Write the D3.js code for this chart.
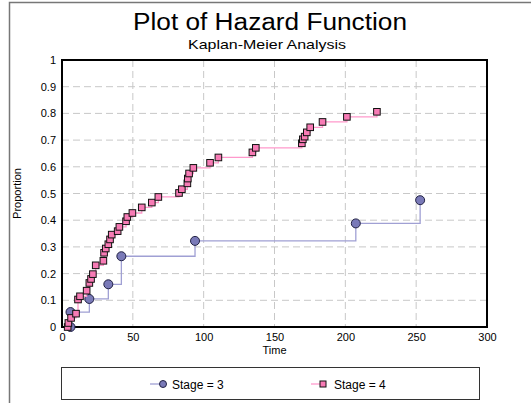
<!DOCTYPE html>
<html><head><meta charset="utf-8">
<script src="https://cdn.jsdelivr.net/npm/d3@7"></script>
<style>body{margin:0;background:#fff}svg{display:block;font-family:"Liberation Sans",Arial,sans-serif}</style>
</head><body><svg id="c" width="531" height="403"></svg>
<script>
const xTicks = [0, 50, 100, 150, 200, 250, 300];
const yTicks = [0, 0.1, 0.2, 0.3, 0.4, 0.5, 0.6, 0.7, 0.8, 0.9, 1];
const yTickLabels = ["0", "0.1", "0.2", "0.3", "0.4", "0.5", "0.6", "0.7", "0.8", "0.9", "1"];
const seriesNames = ["Stage = 3", "Stage = 4"];
const stage3Time = [6, 6, 19.3, 32.7, 41.9, 93.9, 207.4, 252.8];
const stage3Value = [0, 0.056, 0.105, 0.16, 0.265, 0.3225, 0.388, 0.475];
const stage4Time = [4.0, 4.5, 6.4, 9.9, 11.3, 12.7, 17.4, 19.3, 20.5, 21.8, 23.8, 29.2, 29.7, 30.9, 32.7, 33.9, 35.1, 39.3, 40.5, 45.2, 46.1, 49.7, 56.3, 63.4, 68.0, 82.6, 84.6, 88.5, 88.8, 89.7, 92.7, 104.5, 110.4, 134.4, 136.8, 169.3, 170.0, 171.3, 172.8, 175.2, 183.9, 201.1, 222.3];
const stage4Value = [0, 0.015, 0.034, 0.05, 0.103, 0.115, 0.136, 0.165, 0.18, 0.198, 0.231, 0.248, 0.278, 0.294, 0.31, 0.328, 0.346, 0.359, 0.375, 0.396, 0.412, 0.427, 0.448, 0.466, 0.487, 0.502, 0.516, 0.538, 0.556, 0.575, 0.596, 0.615, 0.635, 0.654, 0.671, 0.688, 0.703, 0.713, 0.729, 0.748, 0.768, 0.787, 0.806];

const svg = d3.select("#c");
const L = 62, R = 487, T = 60, B = 327;
const x = d3.scaleLinear().domain([0, 300]).range([L, R]);
const y = d3.scaleLinear().domain([0, 1]).range([B, T]);

// outer frame
svg.append("rect").attr("x", 9.5).attr("y", 2.5).attr("width", 540).attr("height", 420)
  .attr("fill", "none").attr("stroke", "#777").attr("stroke-width", 1.5);

// titles
svg.append("text").attr("x", 270).attr("y", 30).attr("text-anchor", "middle")
  .attr("font-size", 23).attr("textLength", 274).attr("lengthAdjust", "spacingAndGlyphs")
  .text("Plot of Hazard Function");
svg.append("text").attr("x", 267).attr("y", 48.5).attr("text-anchor", "middle")
  .attr("font-size", 13).attr("textLength", 158).attr("lengthAdjust", "spacingAndGlyphs")
  .text("Kaplan-Meier Analysis");

// grid
const grid = svg.append("g").attr("stroke", "#c8c8c8").attr("stroke-dasharray", "7,4").attr("stroke-width", 1);
xTicks.filter(d => d > 0 && d < 300).forEach(d => {
  grid.append("line").attr("x1", x(d)).attr("x2", x(d)).attr("y1", T).attr("y2", B);
});
yTicks.filter(d => d > 0 && d < 1).forEach(d => {
  grid.append("line").attr("x1", L).attr("x2", R).attr("y1", y(d)).attr("y2", y(d));
});

// axes
const xAxis = d3.axisBottom(x).tickValues(xTicks).tickSize(0).tickPadding(6).tickFormat(d3.format("d"));
const gx = svg.append("g").attr("transform", `translate(0,${B})`).call(xAxis);
const yAxis = d3.axisLeft(y).tickValues(yTicks).tickSize(0).tickPadding(6).tickFormat((d, i) => yTickLabels[i]);
const gy = svg.append("g").attr("transform", `translate(${L},0)`).call(yAxis);
[gx, gy].forEach(g => {
  g.select(".domain").remove();
  g.selectAll("text").attr("font-size", 11).attr("fill", "#000").attr("font-family", '"Liberation Sans",Arial,sans-serif');
});
svg.append("rect").attr("x", L).attr("y", T).attr("width", R - L).attr("height", B - T)
  .attr("fill", "none").attr("stroke", "#000").attr("stroke-width", 2);

svg.append("text").attr("x", (L + R) / 2).attr("y", 354).attr("text-anchor", "middle").attr("font-size", 11).text("Time");
svg.append("text").attr("transform", `translate(21,${(T + B) / 2}) rotate(-90)`).attr("text-anchor", "middle")
  .attr("font-size", 11).text("Proportion");

// series
const line = d3.line().x(d => x(d[0])).y(d => y(d[1])).curve(d3.curveStepAfter);
const s3 = stage3Time.map((t, i) => [t, stage3Value[i]]);
const s4 = stage4Time.map((t, i) => [t, stage4Value[i]]);

svg.append("path").attr("d", line(s3)).attr("fill", "none").attr("stroke", "#a0a0d4").attr("stroke-width", 1.3);
svg.append("g").selectAll("circle").data(s3).join("circle")
  .attr("cx", d => x(d[0])).attr("cy", d => y(d[1])).attr("r", 4.5)
  .attr("fill", "#7a7ab8").attr("stroke", "#222244").attr("stroke-width", 1);

svg.append("path").attr("d", line(s4)).attr("fill", "none").attr("stroke", "#ff99cc").attr("stroke-width", 1.3);
svg.append("g").selectAll("rect").data(s4).join("rect")
  .attr("x", d => x(d[0]) - 3.3).attr("y", d => y(d[1]) - 3.3).attr("width", 6.6).attr("height", 6.6)
  .attr("fill", "#f77bb5").attr("stroke", "#111").attr("stroke-width", 1);

// legend
svg.append("rect").attr("x", 61.5).attr("y", 367.5).attr("width", 418).attr("height", 32)
  .attr("fill", "#fff").attr("stroke", "#333").attr("stroke-width", 1);
const lg = svg.append("g");
lg.append("line").attr("x1", 150).attr("x2", 163).attr("y1", 384).attr("y2", 384).attr("stroke", "#a0a0d4").attr("stroke-width", 1.3);
lg.append("circle").attr("cx", 163).attr("cy", 384).attr("r", 3.5).attr("fill", "#7a7ab8").attr("stroke", "#222244");
lg.append("text").attr("x", 172).attr("y", 388.5).attr("font-size", 12).text(seriesNames[0]);
lg.append("line").attr("x1", 311).attr("x2", 323).attr("y1", 384).attr("y2", 384).attr("stroke", "#ff99cc").attr("stroke-width", 1.3);
lg.append("rect").attr("x", 320).attr("y", 381).attr("width", 6).attr("height", 6).attr("fill", "#f77bb5").attr("stroke", "#111");
lg.append("text").attr("x", 334).attr("y", 388.5).attr("font-size", 12).text(seriesNames[1]);
</script></body></html>
